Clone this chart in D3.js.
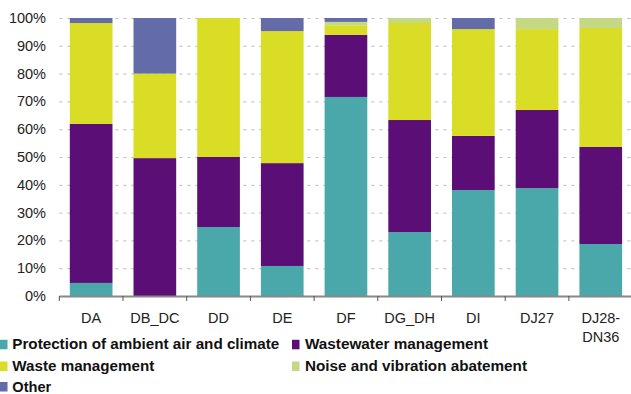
<!DOCTYPE html>
<html><head><meta charset="utf-8">
<script src="https://cdn.jsdelivr.net/npm/d3@7"></script>
<style>body{margin:0;background:#fff}svg{display:block}text{font-family:"Liberation Sans",Arial,sans-serif}</style>
</head><body><svg id="c" width="631" height="394"></svg>
<script>
const categories = ["DA","DB_DC","DD","DE","DF","DG_DH","DI","DJ27","DJ28-DN36"];
const seriesNames = ["Protection of ambient air and climate","Wastewater management","Waste management","Noise and vibration abatement","Other"];
const airClimate = [4.7, 0, 24.8, 10.8, 71.6, 23.0, 38.1, 38.8, 18.7];
const wastewater = [57.2, 49.6, 25.2, 37.0, 22.3, 40.3, 19.5, 28.1, 34.9];
const waste      = [36.3, 30.4, 50.0, 47.5, 3.5, 34.9, 38.4, 29.1, 42.8];
const noise      = [0, 0, 0, 0, 1.2, 1.8, 0, 4.0, 3.6];
const other      = [1.8, 20.0, 0, 4.7, 1.4, 0, 4.0, 0, 0];
const yTicks = [0,10,20,30,40,50,60,70,80,90,100];
const colors = ["#4ba8aa","#5b0e75","#d9dd25","#c5d985","#636ba9"];

(function(){
const svg = d3.select("#c");
const pLeft = 59.3, pRight = 632.6, pTop = 18, pBottom = 296;
const x = d3.scaleBand().domain(categories).range([pLeft,pRight]).paddingInner(0.33).paddingOuter(0.165);
const y = d3.scaleLinear().domain([0,100]).range([pBottom,pTop]);

const rows = categories.map((c,i)=>({cat:c, s0:airClimate[i], s1:wastewater[i], s2:waste[i], s3:noise[i], s4:other[i]}));
const stack = d3.stack().keys(["s0","s1","s2","s3","s4"]);
const layers = stack(rows);

// gridlines
svg.append("g").selectAll("line").data(yTicks.filter(t=>t>0)).join("line")
  .attr("x1",pLeft).attr("x2",631).attr("y1",d=>y(d)+0.5).attr("y2",d=>y(d)+0.5)
  .attr("stroke","#bbb").attr("stroke-width",1).attr("stroke-dasharray","3,5");

// bars
svg.append("g").selectAll("g").data(layers).join("g").attr("fill",(d,i)=>colors[i])
  .selectAll("rect").data(d=>d).join("rect")
  .attr("x",d=>x(d.data.cat)).attr("width",x.bandwidth())
  .attr("y",d=>y(d[1])).attr("height",d=>Math.max(0,y(d[0])-y(d[1])));

// y axis labels
svg.append("g").selectAll("text").data(yTicks).join("text")
  .attr("x",46).attr("y",d=>y(d)+5).attr("text-anchor","end")
  .attr("font-size",14.5).attr("fill","#222").text(d=>d+"%");

// x axis
const xa = svg.append("g");
xa.append("line").attr("x1",pLeft).attr("x2",631).attr("y1",pBottom+0.5).attr("y2",pBottom+0.5).attr("stroke","#888").attr("stroke-width",2);
const step = x.step();
xa.selectAll("line.t").data(d3.range(categories.length+1)).join("line").attr("class","t")
  .attr("x1",i=>pLeft+i*step).attr("x2",i=>pLeft+i*step).attr("y1",pBottom).attr("y2",pBottom+5)
  .attr("stroke","#555").attr("stroke-width",1);
xa.selectAll("text").data(categories).join("text")
  .attr("text-anchor","middle").attr("font-size",14.5).attr("fill","#222")
  .each(function(d){
    const t = d3.select(this);
    const cx = x(d)+x.bandwidth()/2;
    const parts = d==="DJ28-DN36" ? ["DJ28-","DN36"] : [d];
    parts.forEach((p,j)=>t.append("tspan").attr("x",cx).attr("y",323.3+j*18.4).text(p));
  });

// legend
const legPos = [[0,349.3],[292,349.3],[0,371],[292,371],[0,391.5]];
const legW = [267,183,142,222,39];
const lg = svg.append("g");
seriesNames.forEach((n,i)=>{
  lg.append("rect").attr("x",legPos[i][0]).attr("y",legPos[i][1]-9.5).attr("width",7.5).attr("height",9.5).attr("fill",colors[i]);
  lg.append("text").attr("x",legPos[i][0]+(legPos[i][0]>0?13:12.3)).attr("y",legPos[i][1]).attr("font-size",14.5).attr("font-weight","bold").attr("fill","#111")
    .attr("textLength",legW[i]).attr("lengthAdjust","spacingAndGlyphs").text(n);
});
})();
</script></body></html>
